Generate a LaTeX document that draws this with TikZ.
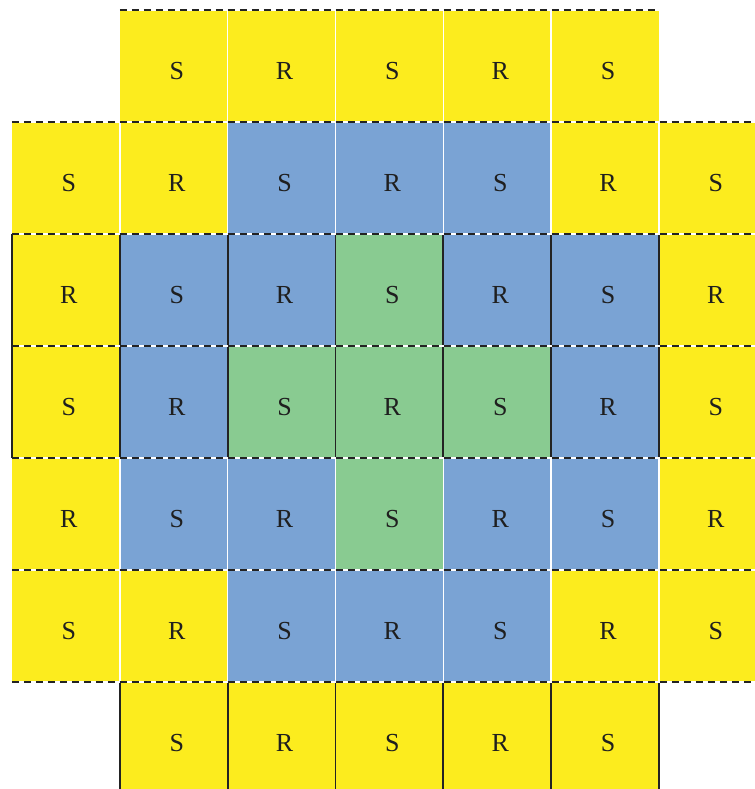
\documentclass[tikz,border=0pt]{standalone}
\usepackage{fontspec}
\setmainfont{Liberation Serif}
\usepackage{tikz}
\definecolor{ringyellow}{RGB}{252,236,30}
\definecolor{ringblue}{RGB}{122,163,212}
\definecolor{ringgreen}{RGB}{137,203,145}
\definecolor{gridblack}{RGB}{35,35,35}
\tikzset{
  cellbox/.style={
    minimum width=53.92pt,minimum height=56pt,inner sep=0pt,outer sep=0pt,
    text height=13.5pt,text depth=0pt,font=\fontsize{13}{15}\selectfont,text=black!88
  },
  cell-y/.style={cellbox,fill=ringyellow},
  cell-b/.style={cellbox,fill=ringblue},
  cell-g/.style={cellbox,fill=ringgreen},
  softline/.style={draw=white,line width=0.7pt},
  hardline/.style={draw=gridblack,line width=0.9pt},
  dashline/.style={
    preaction={draw=white,solid,line width=0.75pt},
    draw=gridblack,line width=0.75pt,dash pattern=on 3.5pt off 2.5pt
  }
}

\begin{document}
\begin{tikzpicture}[x=0.5pt,y=-0.5pt]
  \useasboundingbox (0,0) rectangle (755,789);
  % cells: y = yellow, b = blue, g = green, n = empty
  \foreach \r/\cols in {0/{n,y,y,y,y,y,n},1/{y,y,b,b,b,y,y},2/{y,b,b,g,b,b,y},
      3/{y,b,g,g,g,b,y},4/{y,b,b,g,b,b,y},5/{y,y,b,b,b,y,y},6/{n,y,y,y,y,y,n}}{
    \foreach \k [count=\c from 0] in \cols {
      \if\k n\else
        \pgfmathtruncatemacro\s{\r+\c}
        \node[cell-\k] (n-\r-\c) at ({12+107.83*(\c+0.5)},{10+112*(\r+0.5)})
          {\hspace*{3pt}\ifodd\s S\else R\fi};
      \fi
    }
  }
  % white seams
  \foreach \c in {2,...,5}
    \draw[softline] (n-0-\c.north west) -- (n-0-\c.south west);
  \foreach \r in {1,4,5}
    \foreach \c in {1,...,6}
      \draw[softline] (n-\r-\c.north west) -- (n-\r-\c.south west);
  % black seams
  \foreach \c in {0,...,6}
    \draw[hardline] (n-2-\c.north west) -- (n-3-\c.south west);
  \foreach \c in {1,...,5}
    \draw[hardline] (n-6-\c.north west) -- (n-6-\c.south west);
  \draw[hardline] (n-6-5.north east) -- (n-6-5.south east);
  % dashed rows
  \draw[dashline] (n-0-1.north west) -- (n-0-5.north east);
  \foreach \r in {1,...,5}
    \draw[dashline] (n-\r-0.north west) -- (n-\r-6.north east);
  \draw[dashline] (n-5-0.south west) -- (n-5-6.south east);
\end{tikzpicture}
\end{document}
